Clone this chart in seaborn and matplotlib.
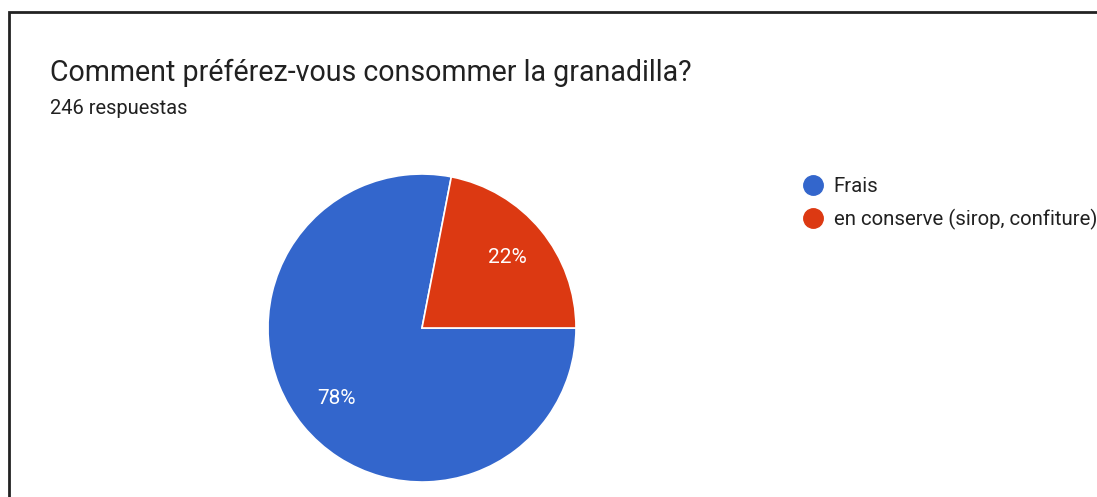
import matplotlib
matplotlib.use("Agg")
import matplotlib.pyplot as plt
from matplotlib.lines import Line2D
from matplotlib.patches import Rectangle
import seaborn as sns

# Data
categories = ["Frais", "en conserve (sirop, confiture)"]
counts = [192, 54]
title = "Comment préférez-vous consommer la granadilla?"
subtitle = "246 respuestas"

sns.set_theme(style="white")
plt.rcParams['font.family'] = ['Roboto', 'DejaVu Sans']

colors = ["#3366CC", "#DC3912"]

W, H = 1097, 497
fig = plt.figure(figsize=(W / 100, H / 100), dpi=100)
fig.patch.set_facecolor("white")

# frame border (partially cropped on right/bottom)
fig.add_artist(Rectangle((9 / W, -0.1), 1.2, (H - 12) / H + 0.1,
                         transform=fig.transFigure, fill=False,
                         edgecolor="#222222", linewidth=2))

cx, cy, r = 422, 328, 154
ax = fig.add_axes([(cx - r) / W, (H - cy - r) / H, 2 * r / W, 2 * r / H])
wedges, texts, autotexts = ax.pie(
    counts, colors=colors, startangle=0, counterclock=False,
    autopct=lambda p: f"{p:.0f}%", pctdistance=0.72,
    wedgeprops=dict(edgecolor="white", linewidth=1.2),
    textprops=dict(color="white", fontsize=15))
ax.set_xlim(-1, 1)
ax.set_ylim(-1, 1)
ax.set_aspect("equal")
ax.axis("off")

fig.text(50 / W, 1 - 73 / H, title, fontsize=20.6, color="#212121",
         va="center", ha="left")
fig.text(50 / W, 1 - 108 / H, subtitle, fontsize=14.5, color="#212121",
         va="center", ha="left")

handles = [Line2D([0], [0], marker="o", linestyle="", markersize=14,
                  markerfacecolor=c, markeredgecolor=c) for c in colors]
fig.legend(handles, categories, loc="upper left",
           bbox_to_anchor=(803 / W, 1 - 177 / H), frameon=False,
           fontsize=14.7, handletextpad=0.5, labelspacing=0.62,
           handlelength=1.0, borderaxespad=0, borderpad=0, labelcolor="#212121")

fig.savefig("out.png", dpi=100, facecolor="white")
